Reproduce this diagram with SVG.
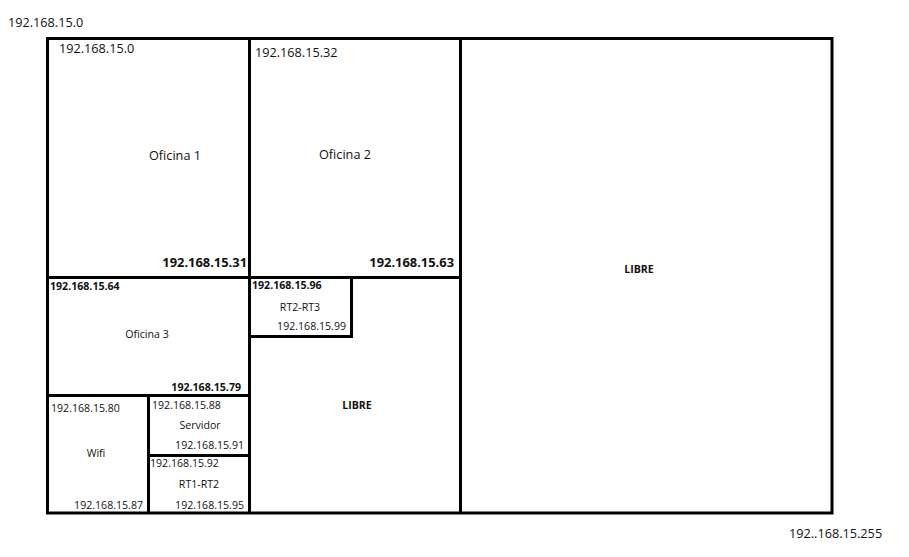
<svg xmlns="http://www.w3.org/2000/svg" width="909" height="557" viewBox="0 0 909 557">
<style>
text{font-family:"Open Sans","Noto Sans","Liberation Sans",sans-serif;fill:#111}
.m{font-size:12.7px}
.mb{font-size:12.9px;font-weight:bold}
.s{font-size:10.6px}
.sb{font-size:10.6px;font-weight:bold}
.c{text-anchor:middle}
.e{text-anchor:end}
.box{fill:none;stroke:#000;stroke-width:3}
</style>
<rect width="909" height="557" fill="#fff"/>
<text class="m" x="8" y="27">192.168.15.0</text>
<text class="m" x="789" y="538">192..168.15.255</text>
<g id="connectors">
<rect class="box" x="47.5" y="38.5" width="784.5" height="474.5"/>
<line class="box" x1="249.5" y1="38.5" x2="249.5" y2="513"/>
<line class="box" x1="460.5" y1="38.5" x2="460.5" y2="513"/>
<line class="box" x1="47.5" y1="277.5" x2="460.5" y2="277.5"/>
<line class="box" x1="47.5" y1="395.5" x2="249.5" y2="395.5"/>
<line class="box" x1="148.5" y1="395.5" x2="148.5" y2="513"/>
<line class="box" x1="148.5" y1="455.5" x2="249.5" y2="455.5"/>
<polyline class="box" points="249.5,336.5 351.5,336.5 351.5,277.5"/>
</g>
<g id="oficina1">
<text class="m" x="59" y="53">192.168.15.0</text>
<text class="m c" x="175" y="160">Oficina 1</text>
<text class="mb e" x="247" y="267">192.168.15.31</text>
</g>
<g id="oficina2">
<text class="m" x="255" y="57">192.168.15.32</text>
<text class="m c" x="345" y="159">Oficina 2</text>
<text class="mb e" x="454" y="267">192.168.15.63</text>
</g>
<g id="libre1">
<text class="sb c" x="639" y="273">LIBRE</text>
</g>
<g id="oficina3">
<text class="sb" x="50" y="290">192.168.15.64</text>
<text class="s c" x="147" y="338">Oficina 3</text>
<text class="sb e" x="241" y="391">192.168.15.79</text>
</g>
<g id="rt2rt3">
<text class="sb" x="252" y="289">192.168.15.96</text>
<text class="s c" x="300" y="311">RT2-RT3</text>
<text class="s e" x="346" y="330">192.168.15.99</text>
</g>
<g id="libre2">
<text class="sb c" x="357" y="409">LIBRE</text>
</g>
<g id="wifi">
<text class="s" x="51" y="412">192.168.15.80</text>
<text class="s c" x="96" y="457">Wifi</text>
<text class="s e" x="143" y="509">192.168.15.87</text>
</g>
<g id="servidor">
<text class="s" x="152" y="409">192.168.15.88</text>
<text class="s c" x="200" y="429">Servidor</text>
<text class="s e" x="244" y="449">192.168.15.91</text>
</g>
<g id="rt1rt2">
<text class="s" x="150" y="467">192.168.15.92</text>
<text class="s c" x="199" y="488">RT1-RT2</text>
<text class="s e" x="244" y="509">192.168.15.95</text>
</g>
</svg>
